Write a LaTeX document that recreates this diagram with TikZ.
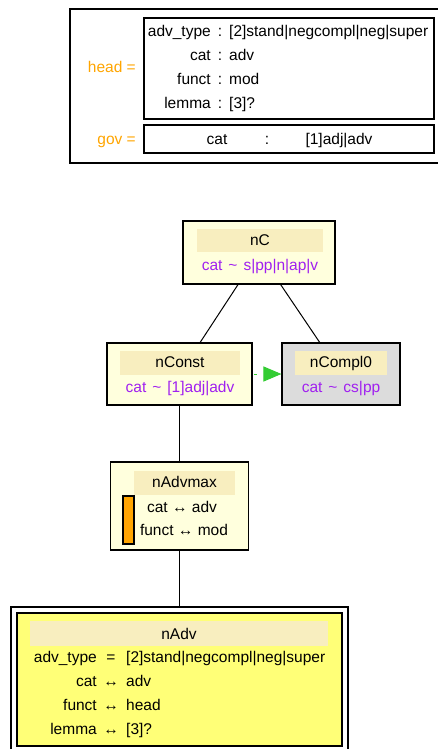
\documentclass[tikz,border=0pt]{standalone}
\usepackage{fontspec}
\setmainfont{Liberation Sans}
\usetikzlibrary{arrows.meta}
\definecolor{GovOrange}{HTML}{FFA500}
\definecolor{CatPurple}{HTML}{A020F0}
\definecolor{NodeFill}{HTML}{FFFFDD}
\definecolor{BandFill}{HTML}{F8EEBF}
\definecolor{ComplGray}{HTML}{DCDCDC}
\definecolor{AdvYellow}{HTML}{FFFF77}
\definecolor{LinkGreen}{HTML}{33CC33}
\newcommand{\simsep}{\hspace{6pt}\textasciitilde\hspace{6pt}}

\begin{document}
\begin{tikzpicture}[x=1pt, y=-1pt,
  box/.style={draw, line width=1.1pt, inner sep=0pt},
  band/.style={fill=BandFill, inner sep=0pt},
  txt/.style={inner sep=0pt, anchor=base, font=\fontsize{15.5}{18}\selectfont},
  edge/.style={line width=1pt},
  linkarrow/.style={draw=LinkGreen, line width=1pt, dash pattern=on 0pt off 1.5pt on 2.5pt off 20pt,
    -{Triangle[length=18pt, width=15pt, fill=LinkGreen]}},
]
\useasboundingbox (0,0) rectangle (438,749);

% --- pattern: head / gov ---
\node[box, minimum width=372pt, minimum height=154pt] (pattern) at (256,86) {};
\node[box, minimum width=290pt, minimum height=101pt] (headbox) at (289,68.5) {};
\node[box, minimum width=290pt, minimum height=28pt] (govbox) at (289,139) {};
\node[txt, anchor=base east, text=GovOrange] (headlbl) at (136,73) {head =};
\node[txt, anchor=base east, text=GovOrange] (govlbl) at (136,144) {gov =};
\foreach \key/\val/\row in {
  adv\_type/{[2]stand|negcompl|neg|super}/32,
  cat/adv/56,
  funct/mod/80,
  lemma/{[3]?}/104}
{
  \node[txt, anchor=base east] (hk\row) at (211,\row+5) {\key};
  \node[txt] (hc\row) at (220,\row+5) {:};
  \node[txt, anchor=base west] (hv\row) at (229,\row+5) {\val};
}
\node[txt] (gk) at (217,144) {cat};
\node[txt] (gc) at (267,144) {:};
\node[txt] (gv) at (339,144) {[1]adj|adv};

% --- nC ---
\node[box, fill=NodeFill, minimum width=152pt, minimum height=63pt] (nC) at (259,252.5) {};
\node[band, minimum width=126pt, minimum height=23pt] (nCband) at (260,240) {};
\node[txt] (nCtitle) at (260,245) {nC};
\node[txt, text=CatPurple] (nCcat) at (260,270) {cat\simsep s|pp|n|ap|v};

% --- nConst, nCompl0 ---
\node[box, fill=NodeFill, minimum width=145pt, minimum height=62pt] (nConst) at (179.5,374) {};
\node[band, minimum width=120pt, minimum height=24pt] (nConstband) at (180,362.5) {};
\node[txt] (nConsttitle) at (180,367) {nConst};
\node[txt, text=CatPurple] (nConstcat) at (180,392) {cat\simsep [1]adj|adv};

\node[box, fill=ComplGray, minimum width=118pt, minimum height=62pt] (nCompl0) at (341,374) {};
\node[band, minimum width=92pt, minimum height=24pt] (nCompl0band) at (341,362.5) {};
\node[txt] (nCompl0title) at (341,367) {nCompl0};
\node[txt, text=CatPurple] (nCompl0cat) at (341,392) {cat\simsep cs|pp};

% --- nAdvmax ---
\node[box, fill=NodeFill, minimum width=138pt, minimum height=88pt] (nAdvmax) at (179.5,506) {};
\node[band, minimum width=101pt, minimum height=24pt] (nAdvmaxband) at (184.5,482.5) {};
\node[txt] (nAdvmaxtitle) at (184.5,487) {nAdvmax};
\node[box, fill=GovOrange, minimum width=11pt, minimum height=48pt] (nAdvmaxbar) at (128.5,520) {};
\node[txt] (nAdvmaxcat) at (182,512) {cat ↔ adv};
\node[txt] (nAdvmaxfunct) at (184,535) {funct ↔ mod};

% --- nAdv ---
\node[box, minimum width=337pt, minimum height=150pt] (nAdvout) at (179.5,682) {};
\node[box, fill=AdvYellow, minimum width=325pt, minimum height=133pt] (nAdv) at (179.5,679.5) {};
\node[band, minimum width=298pt, minimum height=25pt] (nAdvband) at (179,633.5) {};
\node[txt] (nAdvtitle) at (179,639) {nAdv};
\foreach \key/\op/\val/\row in {
  adv\_type/=/{[2]stand|negcompl|neg|super}/657,
  cat/↔/adv/681,
  funct/↔/head/705,
  lemma/↔/{[3]?}/729}
{
  \node[txt, anchor=base east] (ak\row) at (97,\row+5) {\key};
  \node[txt] (ao\row) at (111,\row+5) {\op};
  \node[txt, anchor=base west] (av\row) at (126,\row+5) {\val};
}

% --- edges ---
\draw[edge] (nC) -- (nConst);
\draw[edge] (nC) -- (nCompl0);
\draw[edge] (nConst) -- (nAdvmax);
\draw[edge] (nAdvmax) -- (nAdvout);
\draw[linkarrow] (nConst) -- (nCompl0);

\end{tikzpicture}
\end{document}
